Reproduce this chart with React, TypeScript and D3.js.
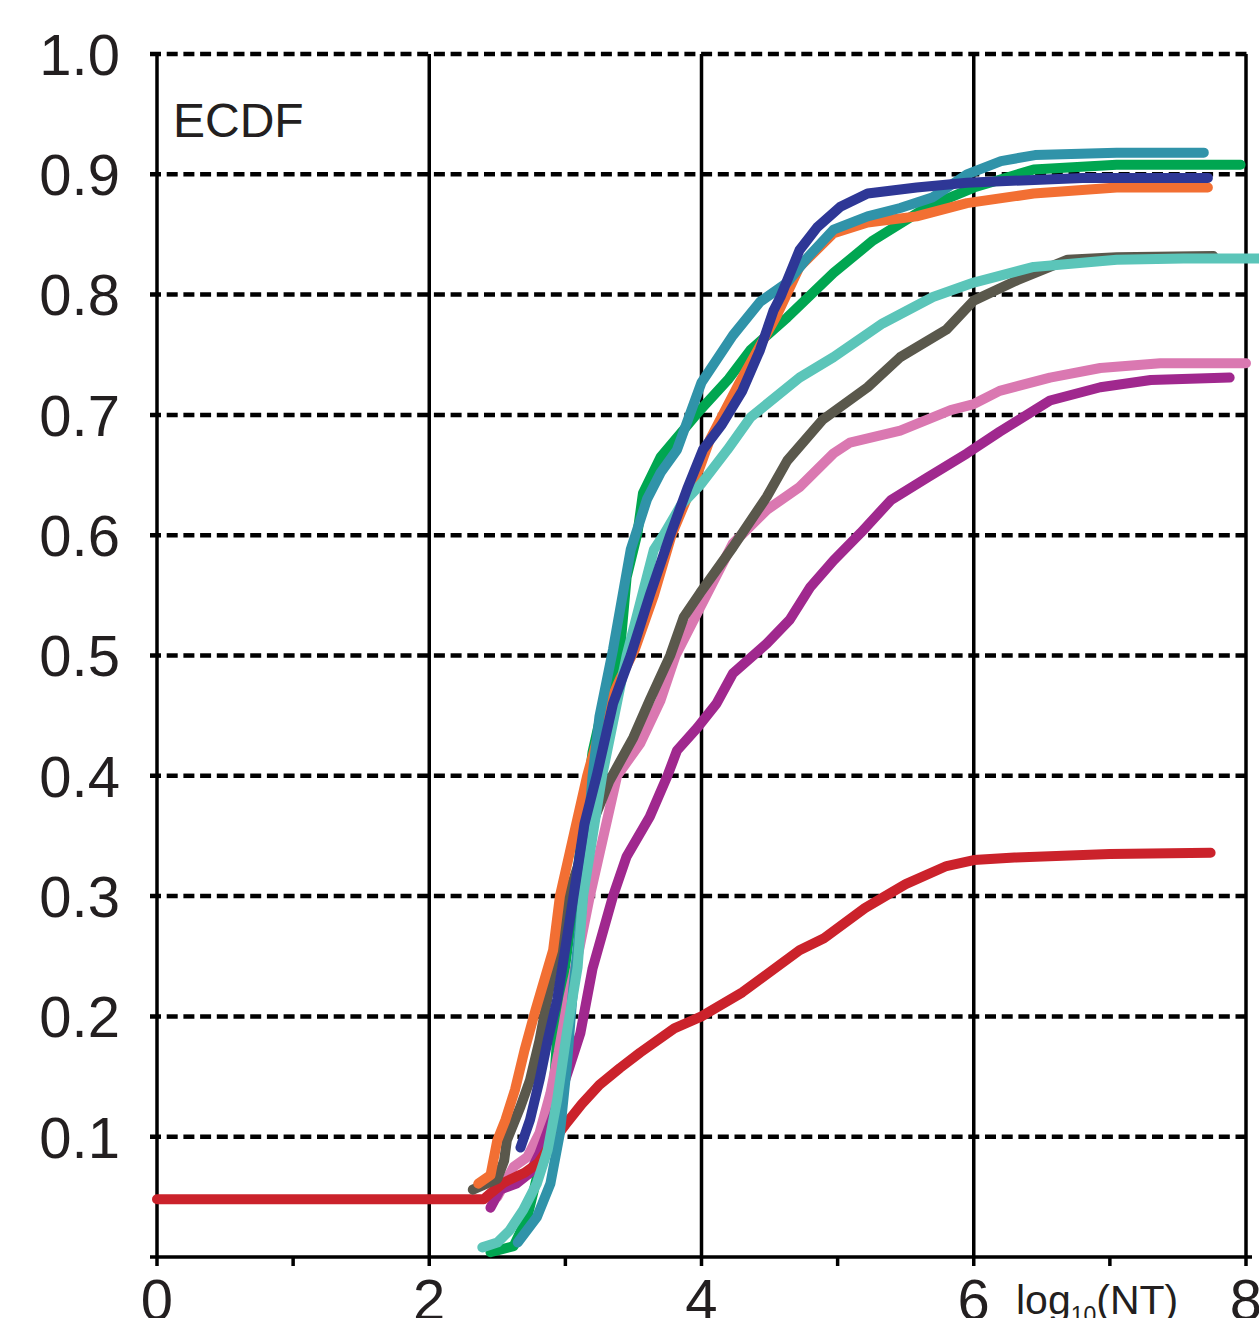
import React from "react";
import * as d3 from "d3";

type Pt = [number, number];

const yTicks = [0.1, 0.2, 0.3, 0.4, 0.5, 0.6, 0.7, 0.8, 0.9, 1.0];
const xMajor = [0, 2, 4, 6, 8];
const xMinor = [1, 3, 5, 7];

const green: Pt[] = [[2.45,0.004],[2.62,0.009],[2.72,0.033],[2.81,0.075],[2.89,0.116],[2.92,0.15],[2.95,0.2],[3.02,0.26],[3.1,0.33],[3.2,0.42],[3.3,0.47],[3.4,0.502],[3.45,0.565],[3.53,0.602],[3.57,0.635],[3.7,0.665],[3.79,0.677],[3.99,0.704],[4.2,0.73],[4.36,0.754],[4.63,0.781],[4.97,0.818],[5.26,0.845],[5.66,0.873],[6.0,0.889],[6.44,0.904],[7.05,0.908],[7.96,0.908]];
const steelBlue: Pt[] = [[2.65,0.012],[2.79,0.033],[2.89,0.061],[2.96,0.103],[3.01,0.158],[3.05,0.214],[3.12,0.29],[3.2,0.4],[3.25,0.449],[3.35,0.505],[3.48,0.588],[3.6,0.63],[3.7,0.652],[3.82,0.671],[4.0,0.727],[4.23,0.766],[4.43,0.794],[4.63,0.81],[4.78,0.831],[4.97,0.854],[5.22,0.865],[5.46,0.872],[5.7,0.881],[5.95,0.9],[6.2,0.911],[6.45,0.916],[7.05,0.918],[7.69,0.918]];
const orange: Pt[] = [[2.36,0.061],[2.45,0.068],[2.5,0.097],[2.56,0.114],[2.63,0.139],[2.7,0.172],[2.78,0.205],[2.91,0.255],[2.96,0.3],[3.06,0.35],[3.16,0.4],[3.28,0.449],[3.4,0.48],[3.51,0.505],[3.65,0.55],[3.78,0.6],[3.99,0.657],[4.06,0.679],[4.28,0.727],[4.55,0.782],[4.72,0.823],[4.97,0.851],[5.22,0.86],[5.58,0.865],[5.95,0.876],[6.44,0.884],[7.05,0.889],[7.72,0.889]];
const navy: Pt[] = [[2.67,0.091],[2.74,0.114],[2.81,0.147],[2.87,0.18],[2.94,0.214],[3.06,0.3],[3.14,0.36],[3.23,0.4],[3.35,0.46],[3.48,0.5],[3.62,0.55],[3.77,0.6],[3.9,0.64],[4.01,0.671],[4.15,0.692],[4.3,0.72],[4.43,0.754],[4.53,0.787],[4.58,0.798],[4.72,0.837],[4.85,0.856],[5.02,0.873],[5.22,0.884],[5.58,0.889],[5.95,0.893],[6.8,0.897],[7.72,0.897]];
const lightTeal: Pt[] = [[2.39,0.008],[2.5,0.012],[2.59,0.022],[2.69,0.039],[2.79,0.061],[2.87,0.089],[2.94,0.131],[3.01,0.186],[3.09,0.241],[3.13,0.3],[3.27,0.4],[3.45,0.5],[3.65,0.588],[3.72,0.6],[3.85,0.625],[4.0,0.643],[4.19,0.671],[4.36,0.698],[4.72,0.731],[4.97,0.748],[5.33,0.776],[5.7,0.798],[6.0,0.81],[6.44,0.823],[7.05,0.829],[7.54,0.83],[8.1,0.83]];
const pink: Pt[] = [[2.5,0.05],[2.62,0.075],[2.72,0.083],[2.81,0.103],[2.89,0.136],[2.95,0.17],[3.02,0.215],[3.1,0.255],[3.18,0.3],[3.38,0.4],[3.55,0.427],[3.7,0.463],[3.81,0.5],[3.99,0.54],[4.23,0.593],[4.48,0.621],[4.72,0.64],[4.97,0.668],[5.09,0.677],[5.46,0.687],[5.83,0.704],[6.0,0.709],[6.19,0.72],[6.56,0.731],[6.93,0.739],[7.37,0.743],[8.0,0.743]];
const gray: Pt[] = [[2.32,0.056],[2.4,0.06],[2.5,0.065],[2.55,0.08],[2.57,0.097],[2.67,0.125],[2.74,0.147],[2.81,0.18],[2.89,0.228],[2.95,0.27],[3.02,0.3],[3.18,0.355],[3.32,0.395],[3.5,0.432],[3.62,0.463],[3.77,0.5],[3.87,0.532],[3.99,0.552],[4.23,0.59],[4.48,0.632],[4.63,0.662],[4.89,0.696],[5.22,0.723],[5.46,0.748],[5.8,0.771],[6.0,0.795],[6.32,0.812],[6.69,0.829],[7.05,0.831],[7.76,0.832]];
const purple: Pt[] = [[2.45,0.041],[2.52,0.056],[2.64,0.061],[2.74,0.07],[2.81,0.086],[2.92,0.12],[3.03,0.158],[3.11,0.186],[3.2,0.24],[3.35,0.3],[3.45,0.333],[3.62,0.366],[3.75,0.4],[3.82,0.421],[3.97,0.44],[4.11,0.46],[4.23,0.485],[4.48,0.51],[4.65,0.53],[4.8,0.557],[4.97,0.579],[5.17,0.602],[5.39,0.629],[5.66,0.648],[5.95,0.668],[6.19,0.686],[6.56,0.712],[6.93,0.723],[7.3,0.729],[7.88,0.731]];
const red: Pt[] = [[0,0.048],[2.4,0.048],[2.45,0.053],[2.55,0.062],[2.7,0.07],[2.8,0.078],[2.9,0.095],[3.0,0.11],[3.12,0.127],[3.25,0.143],[3.4,0.157],[3.55,0.17],[3.8,0.19],[4.0,0.2],[4.3,0.22],[4.72,0.255],[4.9,0.265],[5.2,0.29],[5.5,0.31],[5.8,0.325],[6.0,0.33],[6.3,0.332],[7.0,0.335],[7.74,0.336]];

const seriesOrder: { data: Pt[]; color: string }[] = [
  { data: green, color: "#00A651" },
  { data: pink, color: "#DA78B1" },
  { data: purple, color: "#A0288E" },
  { data: red, color: "#CB222B" },
  { data: gray, color: "#5A584C" },
  { data: orange, color: "#F26F33" },
  { data: steelBlue, color: "#3093A9" },
  { data: lightTeal, color: "#5BC5B9" },
  { data: navy, color: "#2E3796" },
];

export default function App() {
  const W = 1259, H = 1318;
  const x = d3.scaleLinear().domain([0, 8]).range([157, 1246]);
  const y = d3.scaleLinear().domain([0, 1]).range([1257, 54]);
  const line = d3.line<Pt>().x(d => x(d[0])).y(d => y(d[1])).curve(d3.curveLinear);
  const font = "'Liberation Sans', Arial, sans-serif";
  const txt = "#231F20";
  return (
    <div style={{ position: "absolute", left: 0, top: 0 }}>
      <svg width={W} height={H} style={{ display: "block", background: "#fff" }}>
        <rect width={W} height={H} fill="#fff" />
        {yTicks.map(t => (
          <line key={"h" + t} x1={150} x2={1252} y1={y(t)} y2={y(t)} stroke="#000" strokeWidth={4.5} strokeDasharray="11 5.7" />
        ))}
        {xMajor.map(t => (
          <line key={"v" + t} x1={x(t)} x2={x(t)} y1={y(1)} y2={1266} stroke="#000" strokeWidth={3.5} />
        ))}
        {xMinor.map(t => (
          <line key={"m" + t} x1={x(t)} x2={x(t)} y1={1257} y2={1266} stroke="#000" strokeWidth={3.5} />
        ))}
        <line x1={150} x2={1252} y1={y(0)} y2={y(0)} stroke="#000" strokeWidth={3.5} />
        {yTicks.map(t => (
          <text key={"yl" + t} x={120} y={y(t)} dy="0.36em" textAnchor="end" fontFamily={font} fontSize={58} fill={txt}>
            {t.toFixed(1)}
          </text>
        ))}
        {xMajor.map(t => (
          <text key={"xl" + t} x={x(t)} y={1320} textAnchor="middle" fontFamily={font} fontSize={58} fill={txt}>
            {t}
          </text>
        ))}
        <text x={1016} y={1314} fontFamily={font} fontSize={41} fill={txt}>
          log<tspan fontSize={23} dy={9}>10</tspan><tspan dy={-9}>(NT)</tspan>
        </text>
        <text x={173} y={137} fontFamily={font} fontSize={48} fill={txt}>ECDF</text>
        {seriesOrder.map((s, i) => (
          <path key={i} d={line(s.data) || ""} fill="none" stroke={s.color} strokeWidth={10} strokeLinecap="round" strokeLinejoin="round" />
        ))}
      </svg>
    </div>
  );
}
